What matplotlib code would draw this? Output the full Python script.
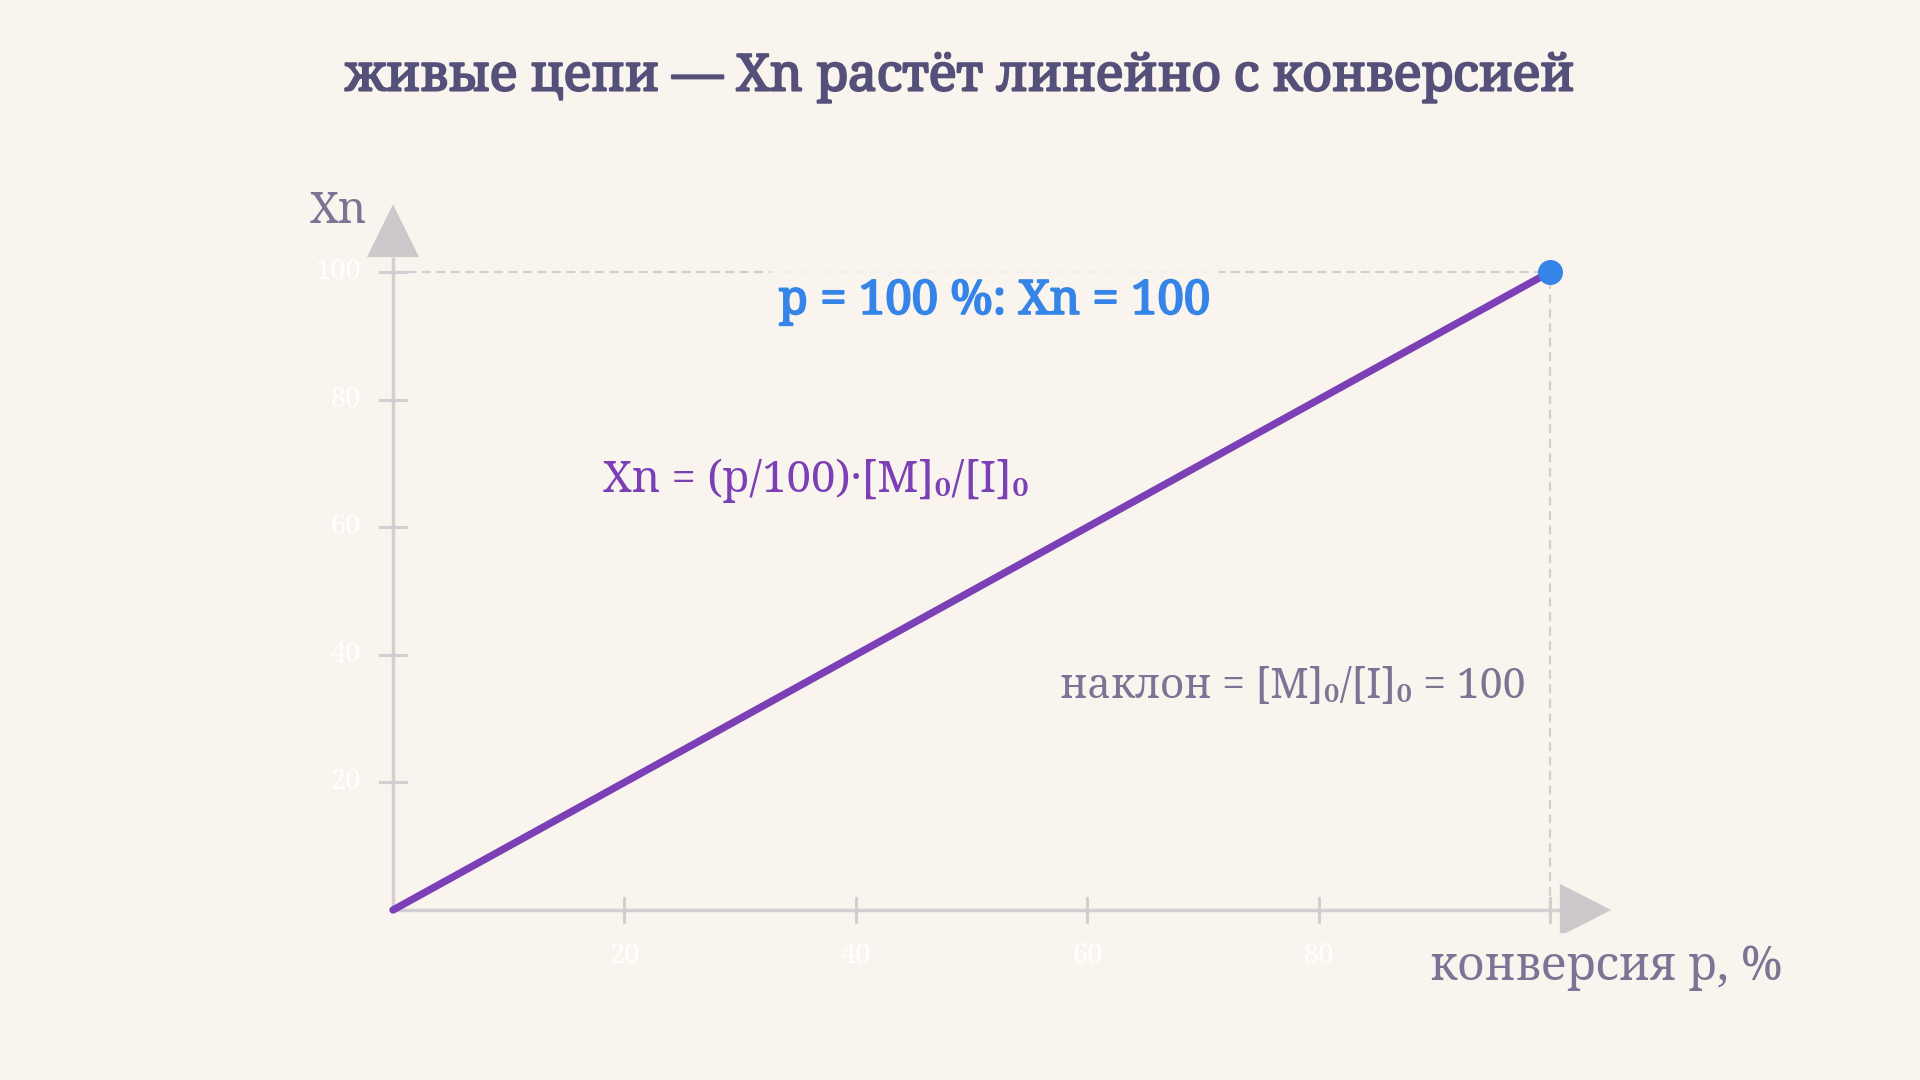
import matplotlib
matplotlib.use("Agg")
import matplotlib.pyplot as plt
from matplotlib import font_manager as fm
from matplotlib import patheffects as pe
from matplotlib.patches import Polygon

# ---- data ----
conversion = [0, 100]          # p, %
xn_values = [0, 100]           # Xn
x_ticks = [20, 40, 60, 80, 100]
y_ticks = [20, 40, 60, 80, 100]
end_point = (100, 100)

title = "живые цепи — Xn растёт линейно с конверсией"
x_label = "конверсия p, %"
y_label = "Xn"
point_label = "p = 100 %: Xn = 100"
formula_label = "Xn = (p/100)·[M]₀/[I]₀"
slope_label = "наклон = [M]₀/[I]₀ = 100"

# ---- style ----
BG = "#faf4ee"
TITLE_C = "#54507a"
LABEL_C = "#7a7594"
PURPLE = "#7b3fb6"
BLUE = "#3584e8"
AXIS_C = "#d2ced2"
ARROW_C = "#ccc8cc"

available = {f.name for f in fm.fontManager.ttflist}
serif = next((f for f in ["Noto Serif", "DejaVu Serif"] if f in available), "DejaVu Serif")
plt.rcParams["font.family"] = [serif, "DejaVu Serif", "DejaVu Sans"]

def bold_fx(color, w=1.3):
    return [pe.withStroke(linewidth=w, foreground=color)]

fig = plt.figure(figsize=(19.2, 10.8), dpi=100, facecolor=BG)
ax = fig.add_axes([393 / 1920, 1 - 910 / 1080, 1157 / 1920, 638 / 1080])
ax.set_facecolor(BG)
ax.set_xlim(0, 100)
ax.set_ylim(0, 100)
ax.axis("off")

xmax = max(conversion)
ymax = max(xn_values)

# axes lines
ax.plot([0, xmax + 0.9], [0, 0], color=AXIS_C, lw=2.5, clip_on=False, zorder=2,
        solid_capstyle="butt")
ax.plot([0, 0], [0, ymax + 2.4], color=AXIS_C, lw=2.5, clip_on=False, zorder=2,
        solid_capstyle="butt")

# arrow heads
ax.add_patch(Polygon([[xmax + 0.85, -4.1], [xmax + 0.85, 4.1], [xmax + 5.3, 0]],
                     closed=True, color=ARROW_C, clip_on=False, zorder=2, lw=0))
ax.add_patch(Polygon([[-2.25, ymax + 2.35], [2.25, ymax + 2.35], [0, ymax + 10.6]],
                     closed=True, color=ARROW_C, clip_on=False, zorder=2, lw=0))

# ticks
for t in x_ticks:
    ax.plot([t, t], [-1.9, 1.9], color=AXIS_C, lw=2.2, clip_on=False, zorder=2)
    ax.text(t, -7.2, str(t), color="white", fontsize=19.5, ha="center", va="center",
            zorder=3)
for t in y_ticks:
    ax.plot([-1.1, 1.1], [t, t], color=AXIS_C, lw=2.2, clip_on=False, zorder=2)
    ax.text(-2.75, t, str(t), color="white", fontsize=19.5, ha="right", va="center",
            zorder=3)

# guide lines
ax.plot([0, end_point[0]], [end_point[1], end_point[1]], color=AXIS_C, lw=1.6,
        dashes=(4, 2.5), clip_on=False, zorder=1)
ax.plot([end_point[0], end_point[0]], [0, end_point[1]], color=AXIS_C, lw=1.6,
        dashes=(4, 2.5), clip_on=False, zorder=1)

# main line and point
ax.plot(conversion, xn_values, color=PURPLE, lw=5.3, clip_on=False, zorder=4,
        solid_capstyle="round")
ax.plot([end_point[0]], [end_point[1]], "o", color=BLUE, markersize=18,
        clip_on=False, zorder=5, markeredgewidth=0)

box = dict(facecolor=BG, edgecolor="none", alpha=0.85, pad=6)

# labels
ax.text(-4.75, 109.4, y_label, color=LABEL_C, fontsize=31.5, ha="center", va="center",
        zorder=6, bbox=box)
ax.text(89.6, -9.0, x_label, color=LABEL_C, fontsize=33.5, ha="left", va="center",
        zorder=6, bbox=dict(facecolor=BG, edgecolor="none", alpha=0.9, pad=8))
ax.text(52.0, 95.4, point_label, color=BLUE, fontsize=34, fontweight="bold",
        ha="center", va="center", zorder=6, bbox=box,
        path_effects=bold_fx(BLUE, 1.4))
ax.text(36.6, 67.2, formula_label, color=PURPLE, fontsize=31.5, ha="center",
        va="center", zorder=6, bbox=box)
ax.text(97.9, 34.9, slope_label, color=LABEL_C, fontsize=29.5, ha="right",
        va="center", zorder=6, bbox=box)

fig.text(0.5, 1 - 77 / 1080, title, color=TITLE_C, fontsize=36.6, fontweight="bold",
         ha="center", va="center", path_effects=bold_fx(TITLE_C, 1.5))

fig.savefig("out.png", dpi=100, facecolor=BG)
